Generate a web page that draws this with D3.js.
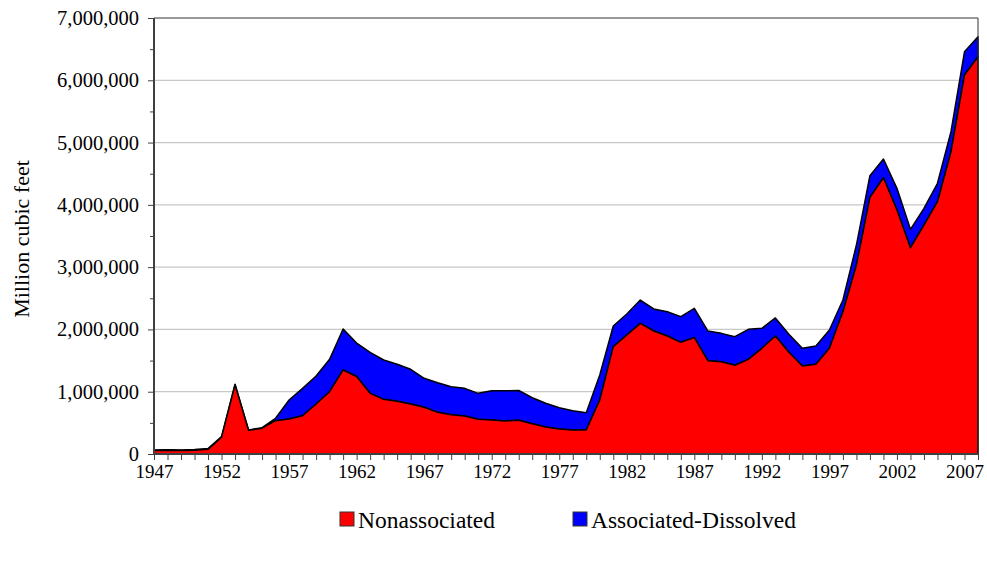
<!DOCTYPE html>
<html><head><meta charset="utf-8">
<script src="https://cdn.jsdelivr.net/npm/d3@7"></script>
<style>body{margin:0;background:#fff}svg{display:block}</style>
</head><body>
<svg id="c" width="987" height="562"></svg>
<script>
const years = d3.range(1947, 2009);
const nonassociated = [55000,60000,55000,62000,75000,270000,1110000,380000,415000,535000,562000,615000,803000,1000000,1349000,1245000,974000,878000,846000,803000,750000,669000,631000,610000,557000,546000,530000,541000,487000,433000,401000,385000,385000,867000,1723000,1910000,2098000,1975000,1894000,1793000,1868000,1498000,1482000,1424000,1520000,1697000,1894000,1633000,1413000,1440000,1697000,2285000,3034000,4121000,4436000,3917000,3312000,3676000,4050000,4853000,6084000,6378000];
const associatedDissolved = [10000,10000,10000,10000,12000,8000,9000,5000,8000,38000,305000,439000,449000,520000,658000,537000,659000,631000,594000,557000,465000,476000,450000,444000,417000,470000,486000,479000,417000,381000,342000,310000,278000,401000,332000,338000,374000,353000,391000,412000,471000,477000,455000,459000,482000,321000,290000,288000,284000,294000,293000,187000,321000,347000,300000,348000,295000,268000,296000,321000,374000,321000];
const yTicks = [0,1000000,2000000,3000000,4000000,5000000,6000000,7000000];
const xLabelYears = [1947,1952,1957,1962,1967,1972,1977,1982,1987,1992,1997,2002,2007];
const seriesNames = ["Nonassociated","Associated-Dissolved"];
const colors = ["#ff0000","#0000ff"];

const svg = d3.select("#c");
const L=154, R=978, T=18, B=454;
const x = d3.scaleLinear().domain([1947,2008]).range([L,R]);
const y = d3.scaleLinear().domain([0,7000000]).range([B,T]);

const font = "'Liberation Serif','Times New Roman',serif";

svg.append("g").selectAll("line").data(yTicks.slice(1,-1)).join("line")
  .attr("x1",L).attr("x2",R).attr("y1",d=>y(d)).attr("y2",d=>y(d))
  .attr("stroke","#c8c8c8").attr("stroke-width",1.2);

const table = years.map((yr,i)=>({year:yr, "Nonassociated":nonassociated[i], "Associated-Dissolved":associatedDissolved[i]}));
const stack = d3.stack().keys(seriesNames)(table);
const area = d3.area().x(d=>x(d.data.year)).y0(d=>y(d[0])).y1(d=>y(d[1]));
svg.append("g").selectAll("path").data(stack.slice().reverse()).join("path")
  .attr("d",area).attr("fill",d=>colors[seriesNames.indexOf(d.key)])
  .attr("stroke","#000").attr("stroke-width",1.5).attr("stroke-linejoin","round");

svg.append("line").attr("x1",L).attr("x2",R).attr("y1",T).attr("y2",T).attr("stroke","#333").attr("stroke-width",1);
svg.append("line").attr("x1",R).attr("x2",R).attr("y1",T).attr("y2",B).attr("stroke","#333").attr("stroke-width",1);

const yAxis = d3.axisLeft(y).tickValues(yTicks).tickSize(6).tickPadding(9).tickFormat(d3.format(","));
const gy = svg.append("g").attr("transform",`translate(${L},0)`).call(yAxis);
gy.selectAll("text").style("font-family",font).style("font-size","20.5px").attr("fill","#000");
gy.selectAll("line,path").attr("stroke","#404040");
gy.select(".domain").attr("stroke-width",2).attr("d",`M0,${T}V${B}`);
const yMinor = d3.axisLeft(y).tickValues(d3.range(500000,7000000,1000000)).tickSize(4).tickFormat("");
const gym = svg.append("g").attr("transform",`translate(${L},0)`).call(yMinor);
gym.select(".domain").remove();
gym.selectAll("line").attr("stroke","#404040");

const xAxis = d3.axisBottom(x).tickValues(years).tickSize(6).tickFormat(d=>xLabelYears.includes(d)?d:"").tickPadding(5);
const gx = svg.append("g").attr("transform",`translate(0,${B})`).call(xAxis);
gx.selectAll("text").style("font-family",font).style("font-size","19px").attr("fill","#000");
gx.selectAll("line").attr("stroke","#404040");
gx.select(".domain").attr("stroke","#404040").attr("stroke-width",2).attr("d",`M${L},0H${R}`);

svg.append("text").attr("transform","translate(29,239) rotate(-90)").attr("text-anchor","middle")
  .style("font-family",font).style("font-size","22px").text("Million cubic feet");

const legX = [340,573];
const lg = svg.append("g");
seriesNames.forEach((n,i)=>{
  lg.append("rect").attr("x",legX[i]).attr("y",512).attr("width",14).attr("height",14)
    .attr("fill",colors[i]).attr("stroke","#333").attr("stroke-width",1);
  lg.append("text").attr("x",legX[i]+18).attr("y",528).style("font-family",font).style("font-size","23.5px").text(n);
});
</script>
</body></html>
